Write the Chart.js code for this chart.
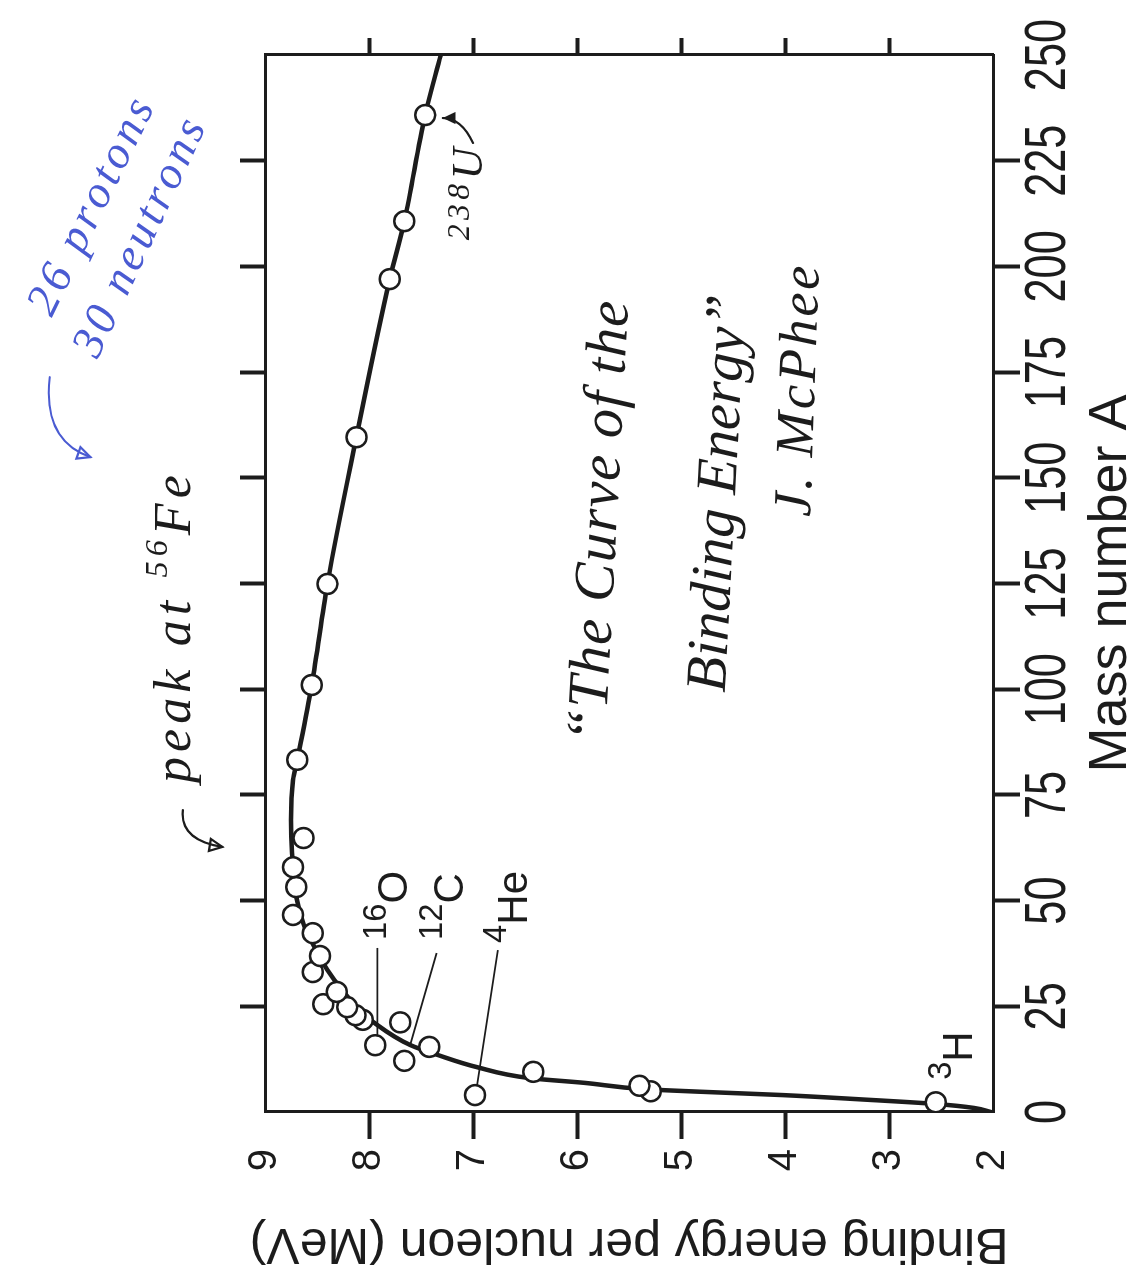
<!DOCTYPE html>
<html><head><meta charset="utf-8">
<script src="https://cdn.jsdelivr.net/npm/chart.js@4.4.1/dist/chart.umd.min.js"></script>
<style>
html,body{margin:0;padding:0;background:#fff;overflow:hidden;width:1144px;height:1268px}
#wrap{position:absolute;left:0;top:0;width:1268px;height:1144px;transform-origin:0 0;transform:translateY(1268px) rotate(-90deg);}
</style></head><body>
<div id="wrap"><canvas id="c" width="1268" height="1144"></canvas></div>
<script>
// ---- data ----
const massNumber    = [2.3, 4.9, 6.2, 4.0, 9.5, 12.1, 15.4, 15.8, 21.2, 21.8, 22.9, 24.8, 25.5, 28.4, 33.1, 36.9, 42.3, 46.6, 53.2, 57.9, 64.8, 83.3, 101, 124.9, 159.6, 197, 210.7, 235.8];
const bindingEnergy = [2.55, 5.29, 5.40, 6.98, 6.42, 7.66, 7.42, 7.94, 7.70, 8.06, 8.13, 8.21, 8.44, 8.31, 8.54, 8.47, 8.54, 8.73, 8.70, 8.73, 8.63, 8.69, 8.55, 8.40, 8.12, 7.80, 7.66, 7.46];
const curveMass     = [0, 0.95, 1.9, 3.0, 4.0, 4.8, 5.4, 6.9, 8.0, 10.6, 13.5, 15.8, 21.3, 24.1, 28.9, 33.6, 38.8, 43.8, 50.9, 61.3, 69.1, 78.5, 83.3, 101, 124.9, 159.7, 197, 210.7, 235.8, 250];
const curveEnergy   = [2.02, 2.18, 2.55, 3.28, 4.02, 4.82, 5.35, 5.93, 6.45, 6.96, 7.34, 7.60, 7.96, 8.09, 8.26, 8.40, 8.52, 8.62, 8.70, 8.74, 8.75, 8.73, 8.69, 8.55, 8.40, 8.12, 7.80, 7.66, 7.46, 7.31];
const massTicks     = [0, 25, 50, 75, 100, 125, 150, 175, 200, 225, 250];
const energyTicks   = [2, 3, 4, 5, 6, 7, 8, 9];

const INK = '#1c1c1c';
const BLUE = '#4a5bd2';
const SANS = "'Liberation Sans', Arial, Helvetica, sans-serif";
const HAND = (s) => `italic ${s}px 'Liberation Serif', 'DejaVu Serif', serif`;

const scatterData = massNumber.map((a, i) => ({x: a, y: bindingEnergy[i]}));
const curveData = curveMass.map((a, i) => ({x: a, y: curveEnergy[i]}));

const edgeTick = (lo, hi) => (c) => (c.tick && (c.tick.value === lo || c.tick.value === hi)) ? 'rgba(0,0,0,0)' : INK;
const setTicks = (arr) => (s) => { s.ticks = arr.map(v => ({value: v})); };

// ---- helpers ----
function richText(ctx, pieces, x, y, opt) {
  const font = opt.font;
  const base = 100;
  let w = 0, n = 0;
  pieces.forEach(p => { ctx.font = font(base * (p.s || 1)); w += ctx.measureText(p.t).width; n += p.t.length; });
  let size = opt.size || (base * opt.width / w);
  let spacing = 0;
  if (opt.size && opt.width) spacing = Math.max(0, (opt.width - w * size / base) / n);
  ctx.save();
  ctx.translate(x, y);
  ctx.rotate((opt.angle || 0) * Math.PI / 180);
  ctx.fillStyle = opt.color || INK;
  ctx.textBaseline = 'alphabetic';
  ctx.textAlign = 'left';
  let cx = 0;
  pieces.forEach(p => {
    ctx.font = font(size * (p.s || 1));
    for (const ch of p.t) {
      ctx.fillText(ch, cx, -(p.rise || 0) * size);
      cx += ctx.measureText(ch).width + spacing;
    }
  });
  ctx.restore();
}
function arrow(ctx, p0, p1, p2, color, filled) {
  ctx.save();
  ctx.strokeStyle = color; ctx.fillStyle = color; ctx.lineWidth = 2.2; ctx.lineCap = 'round';
  ctx.beginPath(); ctx.moveTo(p0[0], p0[1]); ctx.quadraticCurveTo(p1[0], p1[1], p2[0], p2[1]); ctx.stroke();
  const ang = Math.atan2(p2[1] - p1[1], p2[0] - p1[0]);
  const L = 14, W = 0.45;
  ctx.beginPath();
  ctx.moveTo(p2[0], p2[1]);
  ctx.lineTo(p2[0] - L * Math.cos(ang - W), p2[1] - L * Math.sin(ang - W));
  ctx.lineTo(p2[0] - L * Math.cos(ang + W), p2[1] - L * Math.sin(ang + W));
  ctx.closePath();
  if (filled) ctx.fill(); else ctx.stroke();
  ctx.restore();
}

const annotations = {
  id: 'annotations',
  beforeDatasetsDraw(chart) {
    const ctx = chart.ctx, xs = chart.scales.x, ys = chart.scales.y;
    const P = (a, e) => [xs.getPixelForValue(a), ys.getPixelForValue(e)];
    const leaders = [[[17.7, 7.92], [38.8, 7.92]], [[15.4, 7.61], [37.6, 7.35]], [[6.4, 6.96], [38.3, 6.76]]];
    ctx.save(); ctx.strokeStyle = INK; ctx.lineWidth = 1.8;
    leaders.forEach(([a, b]) => { const p = P(...a), q = P(...b); ctx.beginPath(); ctx.moveTo(p[0], p[1]); ctx.lineTo(q[0], q[1]); ctx.stroke(); });
    ctx.restore();
  },
  afterDraw(chart) {
    const ctx = chart.ctx, xs = chart.scales.x, ys = chart.scales.y;
    const P = (a, e) => [xs.getPixelForValue(a), ys.getPixelForValue(e)];
    const sans = (s) => `${s}px ${SANS}`;
    // condensed mass-number tick labels, placed by the x scale
    ctx.save();
    ctx.fillStyle = INK; ctx.font = `57px ${SANS}`; ctx.textAlign = 'center'; ctx.textBaseline = 'alphabetic';
    massTicks.forEach(v => {
      const px = xs.getPixelForValue(v);
      ctx.save(); ctx.translate(px, xs.top + 27 + 4 + 41); ctx.scale(0.76, 1);
      ctx.fillText(String(v), 0, 0); ctx.restore();
    });
    ctx.restore();
    // nuclide labels
    [[['16', 'O'], 40.7, 7.635], [['12', 'C'], 40.7, 7.10], [['4', 'He'], 40.0, 6.48], [['3', 'H'], 7.6, 2.20]].forEach(([t, a, e]) => {
      const p = P(a, e);
      richText(ctx, [{t: t[0], s: 0.78, rise: 0.5}, {t: t[1]}], p[0], p[1], {font: sans, size: 42});
    });
    // handwriting
    let p;
    p = P(87.3, 5.73); richText(ctx, [{t: '\u201CThe Curve of the'}], p[0], p[1], {font: HAND, size: 58, width: 443, angle: 3});
    p = P(99.1, 4.58); richText(ctx, [{t: 'Binding Energy\u201D'}], p[0], p[1], {font: HAND, size: 58, width: 393, angle: 3});
    p = P(140.7, 3.76); richText(ctx, [{t: 'J. McPhee'}], p[0], p[1], {font: HAND, size: 54, width: 254, angle: 2});
    p = P(77.8, 9.72); richText(ctx, [{t: 'peak at '}, {t: '56', s: 0.62, rise: 0.45}, {t: 'Fe'}], p[0], p[1], {font: HAND, size: 52, width: 313, angle: 0});
    p = P(206.2, 6.91); richText(ctx, [{t: '238', s: 0.72, rise: 0.3}, {t: 'U'}], p[0], p[1], {font: HAND, size: 44, width: 97, angle: 0});
    p = P(187.8, 11.05); richText(ctx, [{t: '26 protons'}], p[0], p[1], {font: HAND, size: 46, width: 237, angle: 26, color: BLUE});
    p = P(177.9, 10.61); richText(ctx, [{t: '30 neutrons'}], p[0], p[1], {font: HAND, size: 46, width: 259, angle: 25, color: BLUE});
    // arrows
    arrow(ctx, P(173.8, 11.07), P(158.9, 11.14), P(154.9, 10.68), BLUE, false);
    arrow(ctx, P(71.4, 9.79), P(64.3, 9.82), P(62.7, 9.41), INK, false);
    arrow(ctx, P(229.2, 7.0), P(235.1, 7.11), P(235.1, 7.29), INK, true);
  }
};

const axisBorder = {display: true, width: 3, color: INK};

new Chart(document.getElementById('c'), {
  type: 'scatter',
  data: {
    datasets: [
      {label: 'Nuclides', data: scatterData, xAxisID: 'x', yAxisID: 'y', order: 0,
       pointRadius: 10, pointHoverRadius: 10, pointBorderWidth: 2.5,
       pointBackgroundColor: '#ffffff', pointBorderColor: INK, showLine: false},
      {label: 'Curve', type: 'line', data: curveData, xAxisID: 'x', yAxisID: 'y', order: 1,
       borderColor: INK, borderWidth: 4.5, pointRadius: 0, fill: false,
       cubicInterpolationMode: 'monotone'}
    ]
  },
  options: {
    responsive: false, animation: false, devicePixelRatio: 1,
    layout: {padding: 0},
    plugins: {legend: {display: false}, tooltip: {enabled: false}},
    scales: {
      x: {type: 'linear', position: 'bottom', min: 0, max: 250,
          afterBuildTicks: setTicks(massTicks),
          ticks: {display: false},
          grid: {drawOnChartArea: false, drawTicks: true, tickLength: 27, tickWidth: 4, tickColor: edgeTick(0, 250)},
          border: axisBorder,
          title: {display: true, text: 'Mass number A', color: INK, font: {family: SANS, size: 54, lineHeight: 1}, padding: {top: 0, bottom: 6}},
          afterFit: (s) => { s.height = 151; }},
      x2: {type: 'linear', position: 'top', min: 0, max: 250,
          afterBuildTicks: setTicks(massTicks),
          ticks: {display: false},
          grid: {drawOnChartArea: false, drawTicks: true, tickLength: 25, tickWidth: 4, tickColor: edgeTick(0, 250)},
          border: axisBorder,
          afterFit: (s) => { s.height = 265; }},
      y: {type: 'linear', position: 'left', min: 2, max: 9,
          afterBuildTicks: setTicks(energyTicks),
          ticks: {padding: 10, color: INK, font: {family: SANS, size: 40, lineHeight: 1}},
          grid: {drawOnChartArea: false, drawTicks: true, tickLength: 27, tickWidth: 4, tickColor: edgeTick(2, 9)},
          border: axisBorder,
          title: {display: true, text: 'Binding energy per nucleon (MeV)', color: INK, font: {family: SANS, size: 50, lineHeight: 1}, padding: 0},
          afterFit: (s) => { s.width = 156; }},
      y2: {type: 'linear', position: 'right', min: 2, max: 9,
          afterBuildTicks: setTicks(energyTicks),
          ticks: {display: false},
          grid: {drawOnChartArea: false, drawTicks: true, tickLength: 17, tickWidth: 4, tickColor: edgeTick(2, 9)},
          border: axisBorder,
          afterFit: (s) => { s.width = 55; }}
    }
  },
  plugins: [annotations]
});
</script>
</body></html>
